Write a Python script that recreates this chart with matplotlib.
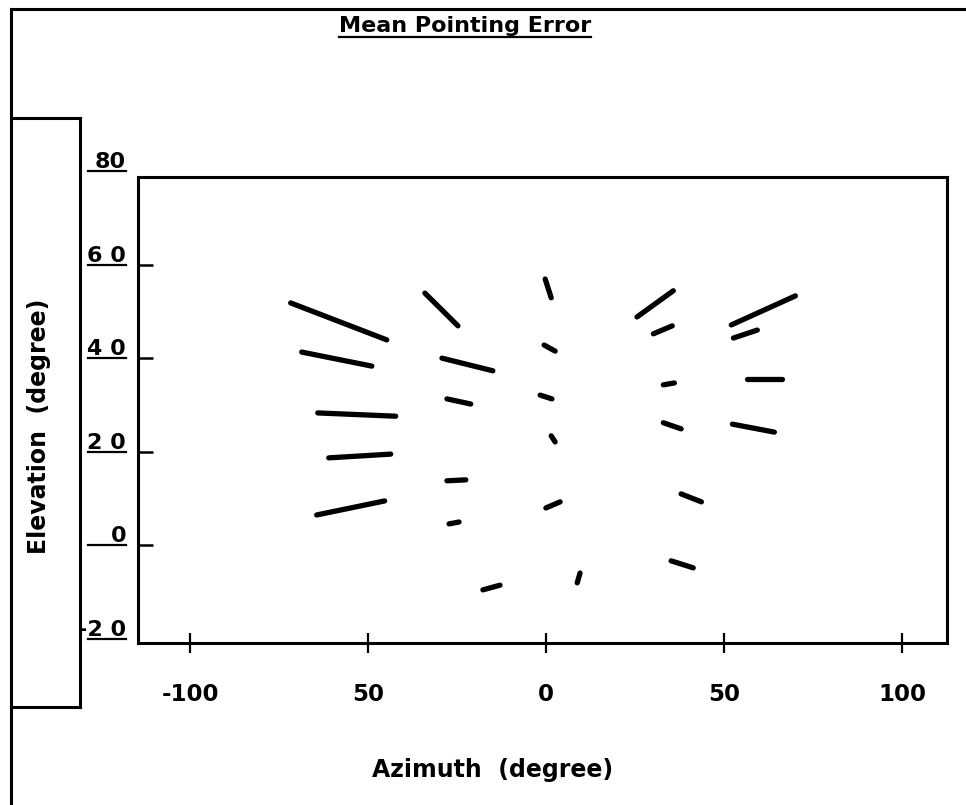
import matplotlib
matplotlib.use("Agg")
import matplotlib.pyplot as plt
import matplotlib.transforms as mtransforms
from matplotlib.lines import Line2D

# mean pointing error segments, start (az, el) -> end (az, el) in degrees
az_start = [-71.8, -68.7, -64.2, -61.1, -64.5,
            -34.1, -29.3, -27.9, -27.9, -27.3, -17.8,
            -0.3, -0.6, -1.7, 1.4, -0.1, 8.7,
            25.5, 30.1, 32.9, 32.9, 37.9, 35.1,
            52.0, 52.6, 56.5, 52.3]
el_start = [51.8, 41.3, 28.3, 18.7, 6.5,
            53.9, 40.0, 31.3, 13.8, 4.6, -9.5,
            56.9, 42.8, 32.1, 23.4, 8.0, -8.0,
            48.8, 45.2, 34.3, 26.2, 11.0, -3.3,
            47.1, 44.3, 35.6, 25.9]
az_end = [-44.8, -49.0, -42.3, -43.7, -45.4,
          -24.8, -15.0, -21.2, -22.6, -24.5, -13.0,
          1.4, 2.5, 1.6, 2.5, 3.9, 9.5,
          35.7, 35.4, 36.0, 37.9, 43.6, 41.3,
          70.0, 59.3, 66.3, 64.1]
el_end = [43.9, 38.3, 27.6, 19.5, 9.5,
          46.9, 37.3, 30.2, 14.0, 5.0, -8.5,
          52.9, 41.5, 31.3, 22.1, 9.3, -5.9,
          54.4, 46.9, 34.7, 24.9, 9.3, -4.8,
          53.3, 46.0, 35.6, 24.2]

x_ticks = [-100, -50, 0, 50, 100]
x_tick_labels = ["-100", "50", "0", "50", "100"]
y_ticks = [80, 60, 40, 20, 0, -20]
y_tick_labels = ["80", "6 0", "4 0", "2 0", "0", "-2 0"]

W, H = 966, 805


def fx(px):
    return px / W


def fy(py):
    return 1 - py / H


fig = plt.figure(figsize=(W / 100, H / 100), dpi=100)
fig.patch.set_facecolor("white")

ax = fig.add_axes([fx(138), fy(643), fx(947) - fx(138), fy(177) - fy(643)])
for a0, e0, a1, e1 in zip(az_start, el_start, az_end, el_end):
    ax.plot([a0, a1], [e0, e1], color="black", lw=3.8, solid_capstyle="round")

ax.set_xlim(-114.7, 112.6)
ax.set_ylim(-20.85, 78.7)
for s in ax.spines.values():
    s.set_linewidth(2.2)

ax.set_xticks(x_ticks)
ax.set_xticklabels(x_tick_labels, fontsize=16.5, fontweight="bold")
ax.tick_params(axis="x", direction="inout", length=14, width=1.6, pad=22)
ax.set_yticks([t for t in y_ticks if 0 <= t <= 60])
ax.tick_params(axis="y", direction="in", length=11, width=1.8, labelleft=False)

# underlined y tick labels outside the axes
trans = mtransforms.blended_transform_factory(ax.transAxes, ax.transData)
ul_left = (88 - 138) / 809
ul_right = (126 - 138) / 809
for val, lab in zip(y_ticks, y_tick_labels):
    t = mtransforms.offset_copy(trans, fig, y=3, units="dots")
    ax.text(ul_right, val, lab, transform=t, ha="right", va="baseline",
            fontsize=16, fontweight="bold", clip_on=False)
    ax.plot([ul_left, ul_right], [val, val], transform=trans, color="black",
            lw=1.6, clip_on=False)

title = fig.text(fx(465), fy(26), "Mean Pointing Error", ha="center", va="center",
                 fontsize=16, fontweight="bold")
fig.text(fx(493), fy(770), "Azimuth  (degree)", ha="center", va="center",
         fontsize=17, fontweight="bold")
fig.text(fx(39), fy(426), "Elevation  (degree)", ha="center", va="center",
         rotation=90, fontsize=17, fontweight="bold")

# underline under the title
r = fig.canvas.get_renderer()
bb = title.get_window_extent(renderer=r)
fig.add_artist(Line2D([bb.x0 / W, bb.x1 / W], [fy(37), fy(37)],
                      transform=fig.transFigure, color="black", lw=1.6))

# page frame and the box around the y label
frame = [
    ([11, 966], [9, 9]),
    ([11, 11], [9, 805]),
    ([11, 80], [118, 118]),
    ([80, 80], [118, 707]),
    ([11, 80], [707, 707]),
]
for xs, ys in frame:
    fig.add_artist(Line2D([fx(v) for v in xs], [fy(v) for v in ys],
                          transform=fig.transFigure, color="black", lw=2.2))

fig.savefig("out.png", dpi=100)
